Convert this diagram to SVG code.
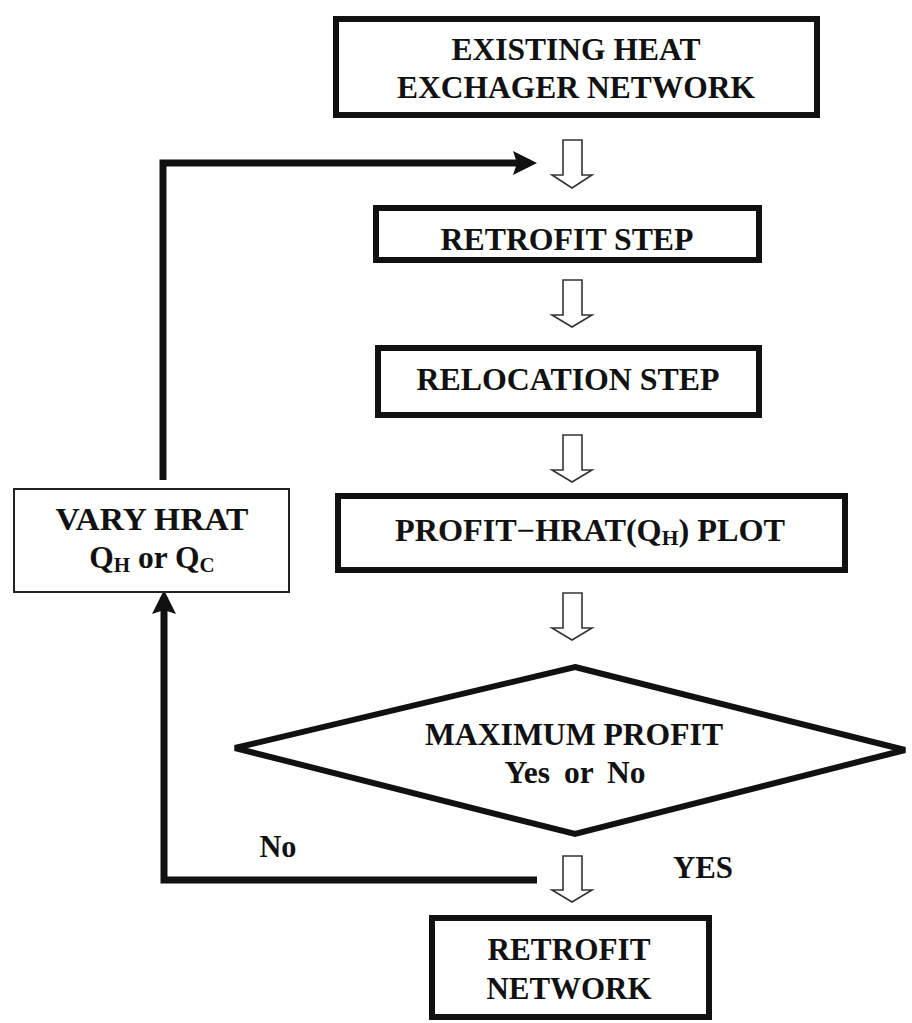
<svg xmlns="http://www.w3.org/2000/svg" width="912" height="1023" viewBox="0 0 912 1023">
<defs>
<style>
.box{fill:#fff;stroke:#111;stroke-width:6}
.thin{fill:#fff;stroke:#222;stroke-width:2}
.t{font-family:"Liberation Serif","Times New Roman",serif;font-weight:bold;font-size:31.5px;fill:#111;text-anchor:middle}
.sub{font-size:21px}
.hollow{fill:#fff;stroke:#333;stroke-width:1.6;stroke-linejoin:miter}
.line{fill:none;stroke:#111;stroke-width:7;stroke-linejoin:miter}
</style>
<marker id="ah" viewBox="0 0 24 24" markerWidth="24" markerHeight="24" markerUnits="userSpaceOnUse" refX="17" refY="12" orient="auto">
<path d="M0,0 L24,12 L0,24 L4,12 Z" fill="#111"/>
</marker>
</defs>
<rect width="912" height="1023" fill="#fff"/>

<g id="connectors">
<path class="line" d="M163,480 V163 H530" marker-end="url(#ah)"/>
<path class="line" d="M537,880 H164 V597" marker-end="url(#ah)"/>
<path class="hollow" d="M563,140 H582 V175 H592 L572,188 L552,175 H563 Z"/>
<path class="hollow" d="M563,280 H582 V315 H592 L572,327 L552,315 H563 Z"/>
<path class="hollow" d="M563,435 H582 V470 H592 L572,482 L552,470 H563 Z"/>
<path class="hollow" d="M563,593 H582 V628 H592 L572,640 L552,628 H563 Z"/>
<path class="hollow" d="M563,856 H582 V890 H592 L572,902 L552,890 H563 Z"/>
<text class="t" x="278" y="857" textLength="37" lengthAdjust="spacingAndGlyphs">No</text>
<text class="t" x="703" y="878" textLength="60" lengthAdjust="spacingAndGlyphs">YES</text>
</g>

<g id="existing">
<rect class="box" x="336" y="19" width="481" height="96"/>
<text class="t" x="576" y="60">EXISTING HEAT</text>
<text class="t" x="576" y="98" textLength="358" lengthAdjust="spacingAndGlyphs">EXCHAGER NETWORK</text>
</g>

<g id="retrofit-step">
<rect class="box" x="376" y="208" width="383" height="52"/>
<text class="t" x="567" y="250" textLength="253" lengthAdjust="spacingAndGlyphs">RETROFIT STEP</text>
</g>

<g id="relocation-step">
<rect class="box" x="378" y="348" width="381" height="67"/>
<text class="t" x="568" y="390" textLength="303" lengthAdjust="spacingAndGlyphs">RELOCATION STEP</text>
</g>

<g id="profit-plot">
<rect class="box" x="338" y="496" width="507" height="74"/>
<text class="t" x="590" y="541" textLength="390" lengthAdjust="spacingAndGlyphs">PROFIT−HRAT(Q<tspan class="sub" dy="4">H</tspan><tspan dy="-4">) PLOT</tspan></text>
</g>

<g id="max-profit">
<polygon class="box" points="575,667 905,750 575,834 235,748"/>
<text class="t" x="574" y="745" textLength="298" lengthAdjust="spacingAndGlyphs">MAXIMUM PROFIT</text>
<text class="t" x="575" y="783" word-spacing="6">Yes or No</text>
</g>

<g id="vary-hrat">
<rect class="thin" x="14" y="489" width="275" height="103"/>
<text class="t" x="152" y="530" textLength="193" lengthAdjust="spacingAndGlyphs">VARY HRAT</text>
<text class="t" x="152" y="568">Q<tspan class="sub" dy="4">H</tspan><tspan dy="-4"> or Q</tspan><tspan class="sub" dy="4">C</tspan></text>
</g>

<g id="retrofit-network">
<rect class="box" x="432" y="918" width="277" height="99"/>
<text class="t" x="569" y="960" textLength="163" lengthAdjust="spacingAndGlyphs">RETROFIT</text>
<text class="t" x="569" y="999" textLength="165" lengthAdjust="spacingAndGlyphs">NETWORK</text>
</g>
</svg>
